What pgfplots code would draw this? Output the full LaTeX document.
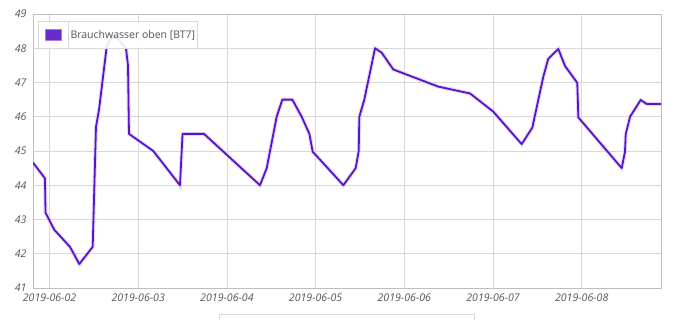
\documentclass[border=0pt]{standalone}
\usepackage{fontspec}
\setmainfont{Open Sans}
\usepackage{pgfplots}
\pgfplotsset{compat=1.18}
\definecolor{lc}{RGB}{88,20,200}
\definecolor{gridc}{RGB}{216,216,216}
\definecolor{axc}{RGB}{190,190,190}
\definecolor{tickc}{RGB}{85,85,85}
\begin{document}
\begin{tikzpicture}[x=1pt,y=1pt]
\path[use as bounding box] (0,0) rectangle (677,320);
\begin{axis}[at={(33pt,32pt)}, anchor=south west, scale only axis,
  width=628pt, height=274pt,
  xmin=-0.186, xmax=6.894, ymin=41, ymax=49,
  xtick={0,...,6},
  xticklabels={2019-06-02,2019-06-03,2019-06-04,2019-06-05,2019-06-06,2019-06-07,2019-06-08},
  ytick={41,...,49},
  grid=major, major grid style={gridc, line width=0.8pt},
  axis line style={axc, line width=0.8pt},
  tick style={draw=none},
  ticklabel style={font=\itshape\fontsize{10.6}{12}\selectfont, text=tickc},
  /pgf/number format/assume math mode=true,
  xticklabel style={yshift=-2pt},
  yticklabel style={xshift=-3pt},
  legend style={at={(rel axis cs:0.008,0.974)}, anchor=north west,
    draw=gridc, fill=white, fill opacity=0.9, text opacity=1,
    font=\fontsize{10.5}{12}\selectfont, text=tickc,
    inner sep=0pt, line width=0.8pt},
  legend image code/.code={
    \path[draw=none, fill=none] (0pt,-13pt) rectangle (29.7pt,13pt);
    \path[draw=lc!55, fill=lc, line width=0.8pt] (6.7pt,-5.3pt) rectangle (22.7pt,5.3pt);
    \path[draw=gridc, line width=0.8pt] (29.7pt,-13pt) -- (29.7pt,13pt);},
  legend cell align=left,
]
\addplot[lc!22, line width=4pt, opacity=0.7, forget plot] table {
x y
-0.186 44.66
-0.051 44.2
-0.045 43.2
0.054 42.7
0.231 42.2
0.336 41.7
0.487 42.2
0.524 45.7
0.558 46.2
0.645 48.05
0.72 48.4
0.832 48.1
0.862 48.0
0.885 47.5
0.896 45.5
1.17 45.0
1.471 44.0
1.50 45.5
1.742 45.5
2.373 44.0
2.449 44.5
2.561 46.0
2.625 46.5
2.738 46.5
2.843 46.0
2.93 45.5
2.967 44.98
3.313 44.0
3.452 44.5
3.486 45.0
3.493 46.0
3.549 46.5
3.67 48.0
3.745 47.87
3.876 47.38
4.383 46.88
4.741 46.68
5.003 46.15
5.323 45.2
5.443 45.68
5.567 47.17
5.623 47.69
5.736 47.98
5.812 47.48
5.95 46.99
5.962 45.98
6.451 44.5
6.488 44.98
6.496 45.49
6.545 46.0
6.665 46.49
6.733 46.37
6.894 46.37
};
\addplot[lc, line width=1.8pt, line join=round] table {
x y
-0.186 44.66
-0.051 44.2
-0.045 43.2
0.054 42.7
0.231 42.2
0.336 41.7
0.487 42.2
0.524 45.7
0.558 46.2
0.645 48.05
0.72 48.4
0.832 48.1
0.862 48.0
0.885 47.5
0.896 45.5
1.17 45.0
1.471 44.0
1.50 45.5
1.742 45.5
2.373 44.0
2.449 44.5
2.561 46.0
2.625 46.5
2.738 46.5
2.843 46.0
2.93 45.5
2.967 44.98
3.313 44.0
3.452 44.5
3.486 45.0
3.493 46.0
3.549 46.5
3.67 48.0
3.745 47.87
3.876 47.38
4.383 46.88
4.741 46.68
5.003 46.15
5.323 45.2
5.443 45.68
5.567 47.17
5.623 47.69
5.736 47.98
5.812 47.48
5.95 46.99
5.962 45.98
6.451 44.5
6.488 44.98
6.496 45.49
6.545 46.0
6.665 46.49
6.733 46.37
6.894 46.37
};
\addlegendentry{Brauchwasser oben [BT7]}
\end{axis}
\draw[gridc, line width=0.8pt] (219.5,0) -- (219.5,5.7) -- (474.5,5.7) -- (474.5,0);
\end{tikzpicture}
\end{document}
